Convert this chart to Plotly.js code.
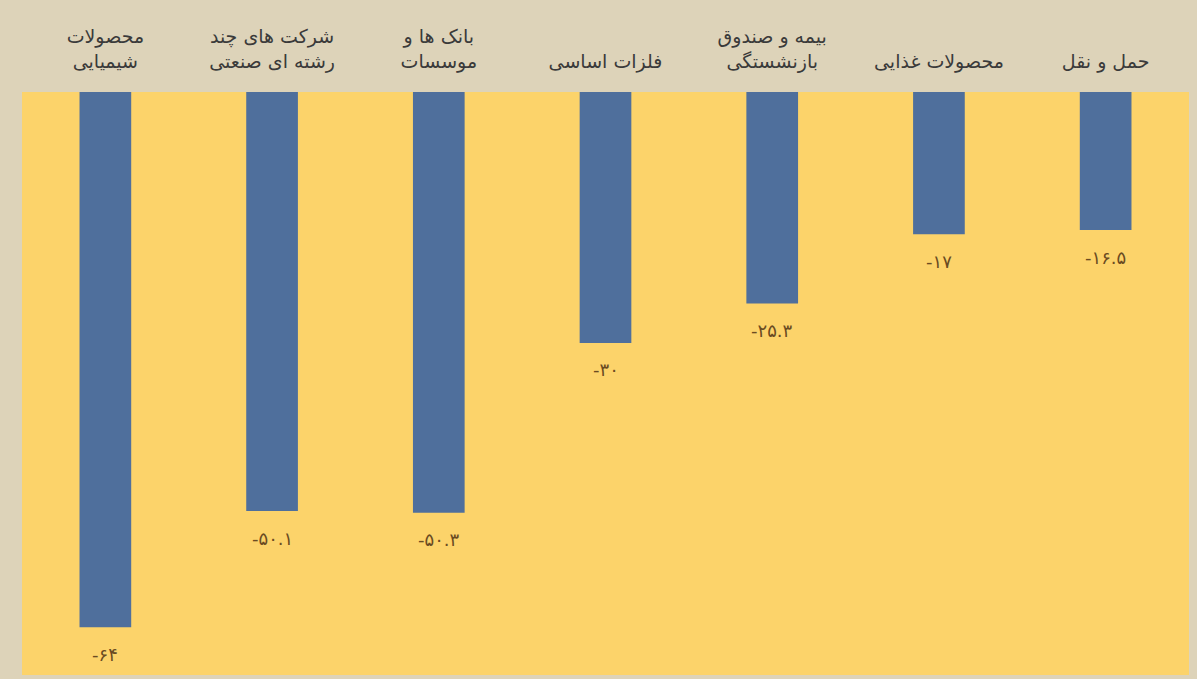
<!DOCTYPE html>
<html>
<head>
<meta charset="utf-8">
<script src="https://cdn.plot.ly/plotly-3.0.1.min.js"></script>
<style>html,body{margin:0;padding:0;background:#ddd3b9;}#chart{width:1197px;height:679px;}</style>
</head>
<body>
<div id="chart"></div>
<script>
const categories = [
  "محصولات<br>شیمیایی",
  "شرکت های چند<br>رشته ای صنعتی",
  "بانک ها و<br>موسسات",
  "فلزات اساسی",
  "بیمه و صندوق<br>بازنشستگی",
  "محصولات غذایی",
  "حمل و نقل"
];
const values = [-64, -50.1, -50.3, -30, -25.3, -17, -16.5];

function toPersian(v) {
  const d = "۰۱۲۳۴۵۶۷۸۹";
  return String(v).replace(/[0-9]/g, c => d[+c]);
}
const labels = values.map(toPersian);

const trace = {
  type: "bar",
  x: categories,
  y: values,
  marker: {color: "#4f6f9c", line: {width: 0}},
  hoverinfo: "skip"
};

const annotations = categories.map((c, i) => ({
  x: c,
  y: values[i],
  xref: "x",
  yref: "y",
  text: labels[i],
  showarrow: false,
  yshift: -27,
  yanchor: "middle",
  font: {family: "DejaVu Sans", size: 18, color: "#6a4b22"}
}));

const layout = {
  width: 1197,
  height: 679,
  margin: {l: 22, r: 8, t: 92, b: 4},
  paper_bgcolor: "#ddd3b9",
  plot_bgcolor: "#fcd36a",
  showlegend: false,
  bargap: 0.69,
  font: {family: "DejaVu Sans", size: 19, color: "#3a3a3a"},
  annotations: annotations,
  xaxis: {
    side: "top",
    type: "category",
    showgrid: false,
    zeroline: false,
    showline: false,
    ticks: "",
    ticklabelstandoff: 19,
    tickfont: {family: "DejaVu Sans", size: 19, color: "#3a3a3a"},
    automargin: false
  },
  yaxis: {
    range: [-69.7, 0],
    visible: false,
    showgrid: false,
    zeroline: false
  }
};

Plotly.newPlot("chart", [trace], layout, {displayModeBar: false, staticPlot: true});
</script>
</body>
</html>
